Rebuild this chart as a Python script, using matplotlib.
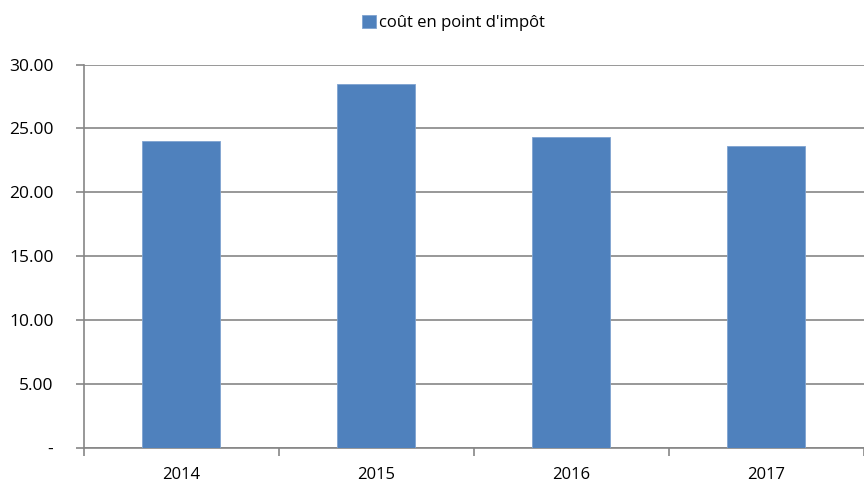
import numpy as np
import matplotlib.pyplot as plt
from matplotlib.ticker import FuncFormatter

# données
annees = ['2014', '2015', '2016', '2017']
cout = [24.0, 28.5, 24.3, 23.6]
serie = "coût en point d'impôt"
bleu = '#4F81BD'
gris = '#868686'

plt.rcParams['font.family'] = ['Open Sans', 'DejaVu Sans']

fig = plt.figure(figsize=(8.64, 4.84), dpi=100)
ax = fig.add_axes([0.0972, 0.075, 0.9028, 0.7917])

x = np.arange(len(annees))
ax.bar(x, cout, width=0.4, color=bleu, edgecolor='#7fa3d0', linewidth=0.6,
       label=serie, zorder=3)

ax.set_xlim(-0.5, len(annees) - 0.5)
ax.set_ylim(0, 30)
ax.set_yticks(np.arange(0, 31, 5))
ax.yaxis.set_major_formatter(FuncFormatter(lambda v, p: '-' if v == 0 else f'{v:.2f}'))
ax.grid(axis='y', color=gris, linewidth=1.2, zorder=0)

ax.set_xticks(x)
ax.set_xticklabels(annees)
ax.set_xticks(np.arange(-0.5, len(annees)), minor=True)
ax.tick_params(axis='x', which='major', length=0, pad=14, labelsize=12)
ax.tick_params(axis='x', which='minor', length=6, color=gris, width=1.2)
ax.tick_params(axis='y', length=6, color=gris, width=1.2, pad=16, labelsize=12.5)

for s in ['top', 'right']:
    ax.spines[s].set_visible(False)
for s in ['left', 'bottom']:
    ax.spines[s].set_color(gris)
    ax.spines[s].set_linewidth(1.2)

fig.legend(loc='upper center', bbox_to_anchor=(0.525, 1.0), frameon=False,
           handlelength=0.8, handleheight=0.8, handletextpad=0.2, fontsize=12)

plt.savefig('out.png', dpi=100)
